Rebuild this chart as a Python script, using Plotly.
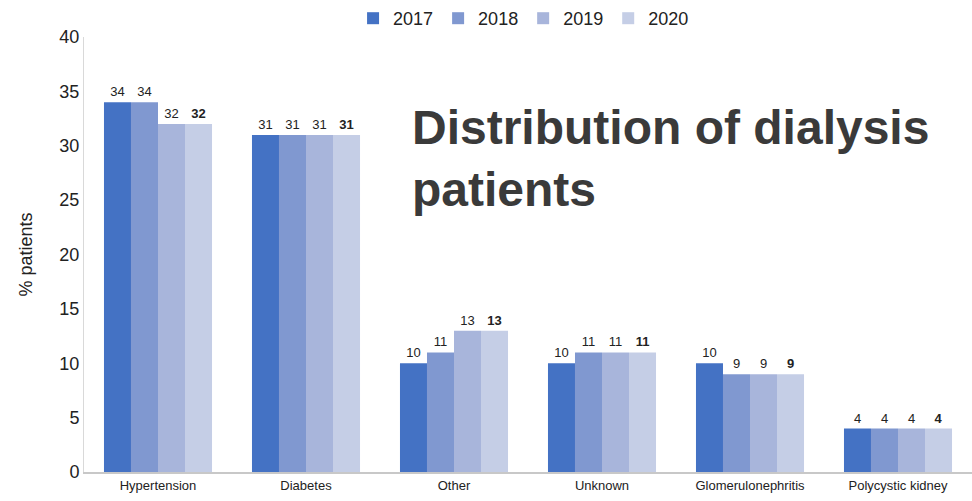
import plotly.graph_objects as go

categories = ["Hypertension", "Diabetes", "Other", "Unknown", "Glomerulonephritis", "Polycystic kidney"]
years = ["2017", "2018", "2019", "2020"]
values = {
    "2017": [34, 31, 10, 10, 10, 4],
    "2018": [34, 31, 11, 11, 9, 4],
    "2019": [32, 31, 13, 11, 9, 4],
    "2020": [32, 31, 13, 11, 9, 4],
}
colors = ["#4472C4", "#8098D0", "#A8B5DB", "#C5CEE6"]

fig = go.Figure()
for yr, col in zip(years, colors):
    tmpl = "<b>%{y}</b>" if yr == "2020" else "%{y}"
    fig.add_trace(go.Bar(
        x=categories, y=values[yr], name=yr, marker=dict(color=col, line=dict(width=0)),
        texttemplate=tmpl, textposition="outside", cliponaxis=False,
        textfont=dict(size=13, color="#222222"),
    ))

fig.update_layout(
    width=972, height=501,
    margin=dict(l=84, r=0, t=36, b=29),
    paper_bgcolor="white", plot_bgcolor="white",
    font=dict(family="Liberation Sans, Arial, sans-serif", color="#222222"),
    barmode="group", bargap=0.27, bargroupgap=0,
    legend=dict(orientation="h", x=0.495, xanchor="center", y=1.0, yanchor="bottom",
                font=dict(size=18), traceorder="normal", itemwidth=30),
    xaxis=dict(showline=True, linecolor="#C8C8C8", linewidth=2, ticks="",
               tickfont=dict(size=13), showgrid=False),
    yaxis=dict(range=[0, 40], dtick=5, showgrid=False, showline=True, linecolor="#D9D9D9",
               linewidth=1, tickfont=dict(size=18), ticks="", ticklen=0,
               title=dict(text="% patients", font=dict(size=18), standoff=22)),
    showlegend=True,
)
plot_w = 972 - 84
plot_h = 501 - 36 - 29
fig.add_annotation(
    x=(410 - 84) / plot_w, y=(501 - 29 - 98) / plot_h, xref="paper", yref="paper",
    text="<b>Distribution of dialysis<br>patients</b>",
    showarrow=False, align="left", xanchor="left", yanchor="top",
    font=dict(size=48, color="#3A3A3A", family="Liberation Sans, Arial, sans-serif"),
)
fig.write_html("out.html")
